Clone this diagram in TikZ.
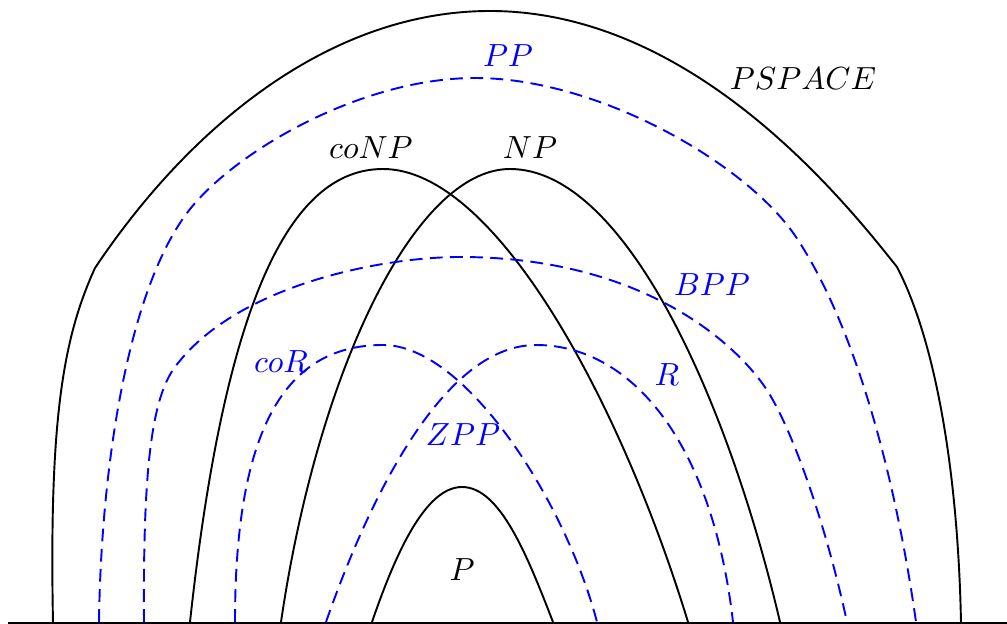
\documentclass[tikz,border=0pt]{standalone}
\begin{document}
\begin{tikzpicture}[x=0.3125pt,y=-0.3125pt,
  cls/.style={line width=0.6pt,black},
  rnd/.style={line width=0.6pt,blue,dash pattern=on 4pt off 2.3pt},
  blab/.style={anchor=base,text=blue,inner sep=0pt},
  klab/.style={anchor=base,text=black,inner sep=0pt}]
\useasboundingbox (0,0) rectangle (1007,624);
% baseline
\draw[cls] (8,623) -- (1007,623);
% PSPACE
\draw[cls] (53,623) .. controls (49,420) and (63,338) .. (95,268)
  .. controls (190,126) and (330,11) .. (490,11)
  .. controls (690,11) and (840,195) .. (897,267)
  .. controls (935,340) and (958,470) .. (961,623);
% PP
\draw[rnd] (99,622) .. controls (101,470) and (127,293) .. (187,213)
  .. controls (232,153) and (360,78) .. (475,78)
  .. controls (600,78) and (748,165) .. (796,237)
  .. controls (856,327) and (896,480) .. (916,622);
% coNP
\draw[cls] (190,622) .. controls (225,300) and (290,169) .. (383,169)
  .. controls (495,169) and (620,400) .. (688,622);
% NP
\draw[cls] (281,622) .. controls (318,370) and (415,169) .. (510,169)
  .. controls (625,169) and (728,400) .. (780,622);
% BPP
\draw[rnd] (144,622) .. controls (143,480) and (150,400) .. (175,367)
  .. controls (235,286) and (380,257) .. (460,257)
  .. controls (650,257) and (744,351) .. (770,395)
  .. controls (796,439) and (827,530) .. (847,622);
% coR
\draw[rnd] (235,622) .. controls (235,420) and (290,345) .. (383,345)
  .. controls (465,345) and (565,500) .. (597,622);
% R
\draw[rnd] (326,622) .. controls (365,510) and (440,345) .. (536,345)
  .. controls (630,345) and (712,440) .. (733,622);
% P
\draw[cls] (372,622) .. controls (395,555) and (425,487) .. (462,487)
  .. controls (500,487) and (527,555) .. (553,622);
% labels
\node[blab] (lpp) at (508,67) {$PP$};
\node[klab] (lps) at (803,90) {$PSPACE$};
\node[klab] (lconp) at (371,159) {$coNP$};
\node[klab] (lnp) at (530,159) {$NP$};
\node[blab] (lbpp) at (712,295) {$BPP$};
\node[blab] (lcor) at (281,372) {$coR$};
\node[blab] (lr) at (667,385) {$R$};
\node[blab] (lzpp) at (463,445) {$ZPP$};
\node[klab] (lp) at (462,580) {$P$};
\end{tikzpicture}
\end{document}
